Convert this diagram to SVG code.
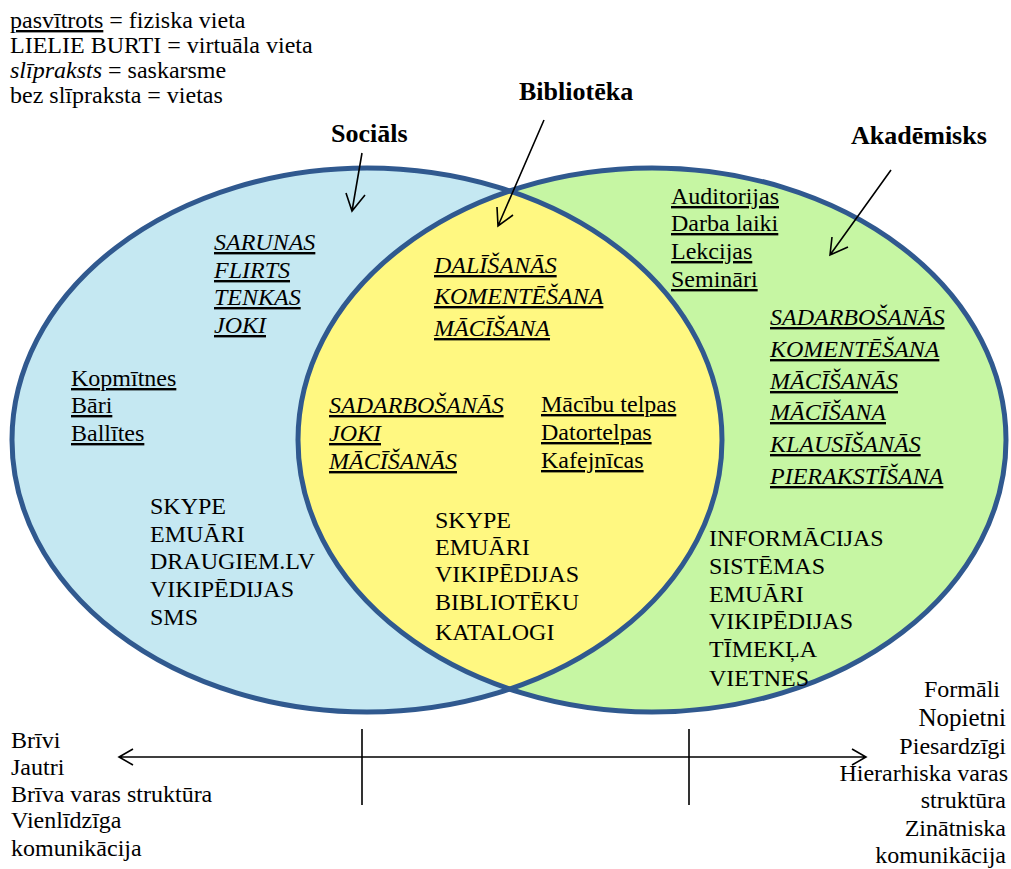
<svg xmlns="http://www.w3.org/2000/svg" width="1011" height="869" viewBox="0 0 1011 869">
<style>
text{font-family:"Liberation Serif","Times New Roman",serif;fill:#000;}
.t{font-size:24px;}
.l{font-size:24px;}
.u{text-decoration:underline;}
.i{font-style:italic;}
.h{font-size:26px;font-weight:bold;}
.r{text-anchor:end;}
.ol{fill:none;stroke:#30598f;stroke-width:5;}
.c{fill:none;stroke:#000;stroke-width:1.6;}
</style>
<defs>
<clipPath id="clipL"><ellipse cx="367" cy="440" rx="355" ry="272"/></clipPath>
</defs>
<rect width="1011" height="869" fill="#fff"/>
<g id="circles">
<ellipse cx="367" cy="440" rx="355" ry="272" fill="#c5e8f2"/>
<ellipse cx="652" cy="440" rx="354" ry="272" fill="#c6f6a3"/>
<ellipse cx="652" cy="440" rx="354" ry="272" fill="#fff881" clip-path="url(#clipL)"/>
<ellipse class="ol" cx="367" cy="440" rx="355" ry="272"/>
<ellipse class="ol" cx="652" cy="440" rx="354" ry="272"/>
</g>
<g id="legend" class="l">
<text x="10" y="28"><tspan class="u">pasvītrots</tspan> = fiziska vieta</text>
<text x="10" y="53">LIELIE BURTI = virtuāla vieta</text>
<text x="10" y="78"><tspan class="i">slīpraksts</tspan> = saskarsme</text>
<text x="10" y="103">bez slīpraksta = vietas</text>
</g>
<g id="heading-social"><text class="h" x="331" y="142">Sociāls</text></g>
<g id="heading-library"><text class="h" x="519" y="100">Bibliotēka</text></g>
<g id="heading-academic"><text class="h" x="851" y="144">Akadēmisks</text></g>
<g id="social-node" class="t">
<text class="i u" x="214" y="250">SARUNAS</text>
<text class="i u" x="214" y="278">FLIRTS</text>
<text class="i u" x="214" y="305">TENKAS</text>
<text class="i u" x="214" y="333">JOKI</text>
<text class="u" x="71" y="386">Kopmītnes</text>
<text class="u" x="71" y="413">Bāri</text>
<text class="u" x="71" y="441">Ballītes</text>
<text x="150" y="514">SKYPE</text>
<text x="150" y="542">EMUĀRI</text>
<text x="150" y="569">DRAUGIEM.LV</text>
<text x="150" y="597">VIKIPĒDIJAS</text>
<text x="150" y="625">SMS</text>
</g>
<g id="library-node" class="t">
<text class="i u" x="434" y="273">DALĪŠANĀS</text>
<text class="i u" x="434" y="304">KOMENTĒŠANA</text>
<text class="i u" x="434" y="336">MĀCĪŠANA</text>
<text class="i u" x="329" y="413">SADARBOŠANĀS</text>
<text class="i u" x="329" y="441">JOKI</text>
<text class="i u" x="329" y="469">MĀCĪŠANĀS</text>
<text class="u" x="541" y="412">Mācību telpas</text>
<text class="u" x="541" y="440">Datortelpas</text>
<text class="u" x="541" y="468">Kafejnīcas</text>
<text x="435" y="528">SKYPE</text>
<text x="435" y="555">EMUĀRI</text>
<text x="435" y="582">VIKIPĒDIJAS</text>
<text x="435" y="610">BIBLIOTĒKU</text>
<text x="435" y="640">KATALOGI</text>
</g>
<g id="academic-node" class="t">
<text class="u" x="671" y="204">Auditorijas</text>
<text class="u" x="671" y="231">Darba laiki</text>
<text class="u" x="671" y="259">Lekcijas</text>
<text class="u" x="671" y="287">Semināri</text>
<text class="i u" x="770" y="325">SADARBOŠANĀS</text>
<text class="i u" x="770" y="357">KOMENTĒŠANA</text>
<text class="i u" x="770" y="389">MĀCĪŠANĀS</text>
<text class="i u" x="770" y="420">MĀCĪŠANA</text>
<text class="i u" x="770" y="452">KLAUSĪŠANĀS</text>
<text class="i u" x="770" y="484">PIERAKSTĪŠANA</text>
<text x="709" y="546">INFORMĀCIJAS</text>
<text x="709" y="574">SISTĒMAS</text>
<text x="709" y="602">EMUĀRI</text>
<text x="709" y="629">VIKIPĒDIJAS</text>
<text x="709" y="657">TĪMEKĻA</text>
<text x="709" y="686">VIETNES</text>
</g>
<g id="scale-left" class="l">
<text x="11" y="748">Brīvi</text>
<text x="11" y="775">Jautri</text>
<text x="11" y="802">Brīva varas struktūra</text>
<text x="11" y="828">Vienlīdzīga</text>
<text x="11" y="856">komunikācija</text>
</g>
<g id="scale-right" class="l r">
<text x="1000" y="697">Formāli</text>
<text x="1006" y="726" style="font-size:25px">Nopietni</text>
<text x="1006" y="754">Piesardzīgi</text>
<text x="1008" y="781">Hierarhiska varas</text>
<text x="1006" y="808">struktūra</text>
<text x="1006" y="836">Zinātniska</text>
<text x="1006" y="863">komunikācija</text>
</g>
<g id="connectors">
<path class="c" d="M362,153 L352,211 M346,193 L352,211 L365,195"/>
<path class="c" d="M544,120 L498,226 M497,207 L498,226 L513,215"/>
<path class="c" d="M891,170 L830,255 M832,237 L830,255 L848,247"/>
<path class="c" d="M119,757 L866,757 M133,749 L119,757 L133,765 M852,749 L866,757 L852,765"/>
<path class="c" d="M362,729 L362,805 M689,729 L689,805"/>
</g>
</svg>
